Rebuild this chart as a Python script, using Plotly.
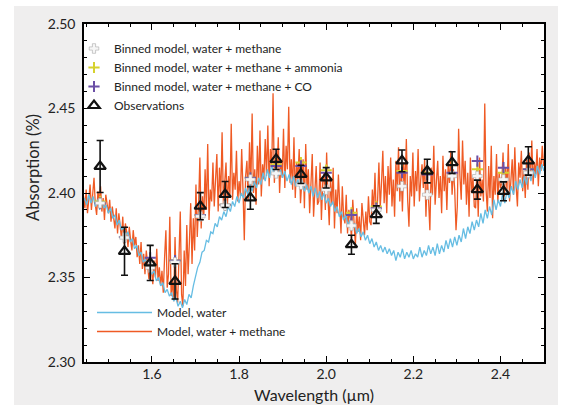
import plotly.graph_objects as go

# ---------------- data ----------------
obs_wl = [1.481, 1.537, 1.596, 1.653, 1.711, 1.768, 1.826, 1.885, 1.942,
          2.000, 2.058, 2.115, 2.174, 2.232, 2.289, 2.347, 2.407, 2.464]
obs_abs = [2.4157, 2.3655, 2.3586, 2.3477, 2.3922, 2.3991, 2.3971, 2.4199, 2.4110,
           2.4090, 2.3694, 2.3872, 2.4190, 2.4130, 2.4180, 2.4020, 2.4010, 2.4190]
obs_err = [0.0154, 0.0142, 0.0104, 0.0104, 0.0080, 0.0077, 0.0067, 0.0060, 0.0054,
           0.0060, 0.0056, 0.0052, 0.0064, 0.0070, 0.0064, 0.0056, 0.0056, 0.0084]

bin_wm = [2.394, 2.3736, 2.3558, 2.359, 2.3862, 2.3926, 2.408, 2.4116, 2.405,
          2.402, 2.3807, 2.390, 2.404, 2.399, 2.410, 2.410, 2.408, 2.412]
bin_wma = [2.395, 2.374, 2.357, 2.360, 2.387, 2.393, 2.409, 2.4169, 2.418,
           2.4135, 2.3883, 2.392, 2.413, 2.412, 2.4165, 2.414, 2.412, 2.414]
bin_wmco = [2.394, 2.374, 2.3617, 2.360, 2.387, 2.393, 2.409, 2.416, 2.416,
            2.412, 2.387, 2.391, 2.412, 2.411, 2.412, 2.4189, 2.415, 2.414]

water_wl = [
    1.445, 1.450, 1.455, 1.460, 1.465, 1.470, 1.475, 1.480, 1.485, 1.490,
    1.495, 1.500, 1.505, 1.510, 1.515, 1.520, 1.525, 1.530, 1.535, 1.540,
    1.545, 1.550, 1.555, 1.560, 1.565, 1.570, 1.575, 1.580, 1.585, 1.590,
    1.595, 1.600, 1.605, 1.610, 1.615, 1.620, 1.625, 1.630, 1.635, 1.640,
    1.645, 1.650, 1.655, 1.660, 1.665, 1.670, 1.675, 1.680, 1.685, 1.690,
    1.695, 1.700, 1.705, 1.710, 1.715, 1.720, 1.725, 1.730, 1.735, 1.740,
    1.745, 1.750, 1.755, 1.760, 1.765, 1.770, 1.775, 1.780, 1.785, 1.790,
    1.795, 1.800, 1.805, 1.810, 1.815, 1.820, 1.825, 1.830, 1.835, 1.840,
    1.845, 1.850, 1.855, 1.860, 1.865, 1.870, 1.875, 1.880, 1.885, 1.890,
    1.895, 1.900, 1.905, 1.910, 1.915, 1.920, 1.925, 1.930, 1.935, 1.940,
    1.945, 1.950, 1.955, 1.960, 1.965, 1.970, 1.975, 1.980, 1.985, 1.990,
    1.995, 2.000, 2.005, 2.010, 2.015, 2.020, 2.025, 2.030, 2.035, 2.040,
    2.045, 2.050, 2.055, 2.060, 2.065, 2.070, 2.075, 2.080, 2.085, 2.090,
    2.095, 2.100, 2.105, 2.110, 2.115, 2.120, 2.125, 2.130, 2.135, 2.140,
    2.145, 2.150, 2.155, 2.160, 2.165, 2.170, 2.175, 2.180, 2.185, 2.190,
    2.195, 2.200, 2.205, 2.210, 2.215, 2.220, 2.225, 2.230, 2.235, 2.240,
    2.245, 2.250, 2.255, 2.260, 2.265, 2.270, 2.275, 2.280, 2.285, 2.290,
    2.295, 2.300, 2.305, 2.310, 2.315, 2.320, 2.325, 2.330, 2.335, 2.340,
    2.345, 2.350, 2.355, 2.360, 2.365, 2.370, 2.375, 2.380, 2.385, 2.390,
    2.395, 2.400, 2.405, 2.410, 2.415, 2.420, 2.425, 2.430, 2.435, 2.440,
    2.445, 2.450, 2.455, 2.460, 2.465, 2.470, 2.475, 2.480, 2.485, 2.490,
    2.495, 2.500]
water_abs = [
    2.397, 2.393, 2.399, 2.394, 2.398, 2.392, 2.396, 2.390, 2.395, 2.391,
    2.393, 2.388, 2.391, 2.385, 2.387, 2.381, 2.384, 2.378, 2.380, 2.375,
    2.377, 2.371, 2.373, 2.367, 2.369, 2.363, 2.365, 2.359, 2.361, 2.356,
    2.358, 2.352, 2.354, 2.348, 2.350, 2.345, 2.347, 2.341, 2.343, 2.339,
    2.341, 2.336, 2.338, 2.333, 2.336, 2.332, 2.337, 2.334, 2.340, 2.338,
    2.345, 2.350, 2.356, 2.359, 2.365, 2.366, 2.372, 2.371, 2.377, 2.376,
    2.382, 2.380, 2.386, 2.384, 2.389, 2.386, 2.392, 2.389, 2.395, 2.392,
    2.398, 2.394, 2.400, 2.397, 2.403, 2.399, 2.405, 2.401, 2.407, 2.403,
    2.409, 2.405, 2.412, 2.407, 2.414, 2.409, 2.417, 2.411, 2.416, 2.410,
    2.414, 2.409, 2.413, 2.407, 2.411, 2.405, 2.410, 2.404, 2.408, 2.403,
    2.407, 2.401, 2.405, 2.400, 2.404, 2.398, 2.403, 2.397, 2.401, 2.396,
    2.400, 2.394, 2.397, 2.392, 2.395, 2.389, 2.392, 2.386, 2.389, 2.384,
    2.387, 2.381, 2.384, 2.379, 2.382, 2.376, 2.379, 2.374, 2.377, 2.372,
    2.375, 2.370, 2.373, 2.368, 2.371, 2.366, 2.369, 2.365, 2.368, 2.364,
    2.367, 2.363, 2.366, 2.360, 2.365, 2.362, 2.367, 2.361, 2.365, 2.362,
    2.366, 2.361, 2.364, 2.362, 2.368, 2.362, 2.366, 2.363, 2.369, 2.364,
    2.368, 2.363, 2.370, 2.364, 2.369, 2.365, 2.372, 2.367, 2.373, 2.368,
    2.374, 2.369, 2.375, 2.371, 2.379, 2.373, 2.380, 2.376, 2.383, 2.378,
    2.384, 2.380, 2.388, 2.382, 2.390, 2.385, 2.392, 2.387, 2.396, 2.390,
    2.396, 2.392, 2.400, 2.394, 2.401, 2.397, 2.404, 2.399, 2.407, 2.402,
    2.408, 2.403, 2.410, 2.405, 2.413, 2.407, 2.414, 2.409, 2.416, 2.411,
    2.417, 2.413]

wm_wl = [
    1.443, 1.446, 1.449, 1.452, 1.455, 1.458, 1.461, 1.464, 1.467, 1.470,
    1.473, 1.476, 1.479, 1.482, 1.485, 1.488, 1.491, 1.494, 1.497, 1.500,
    1.503, 1.506, 1.509, 1.512, 1.515, 1.518, 1.521, 1.524, 1.527, 1.530,
    1.533, 1.536, 1.539, 1.542, 1.545, 1.548, 1.551, 1.554, 1.557, 1.560,
    1.563, 1.566, 1.569, 1.572, 1.575, 1.578, 1.581, 1.584, 1.587, 1.590,
    1.593, 1.596, 1.599, 1.602, 1.605, 1.608, 1.611, 1.614, 1.617, 1.620,
    1.623, 1.626, 1.629, 1.632, 1.635, 1.638, 1.641, 1.644, 1.647, 1.650,
    1.653, 1.656, 1.659, 1.662, 1.665, 1.668, 1.671, 1.674, 1.677, 1.680,
    1.683, 1.686, 1.689, 1.692, 1.695, 1.698, 1.701, 1.704, 1.707, 1.710,
    1.713, 1.716, 1.719, 1.722, 1.725, 1.728, 1.731, 1.734, 1.737, 1.740,
    1.743, 1.746, 1.749, 1.752, 1.755, 1.758, 1.761, 1.764, 1.767, 1.770,
    1.773, 1.776, 1.779, 1.782, 1.785, 1.788, 1.791, 1.794, 1.797, 1.800,
    1.803, 1.806, 1.809, 1.812, 1.815, 1.818, 1.821, 1.824, 1.827, 1.830,
    1.833, 1.836, 1.839, 1.842, 1.845, 1.848, 1.851, 1.854, 1.857, 1.860,
    1.863, 1.866, 1.869, 1.872, 1.875, 1.878, 1.881, 1.884, 1.887, 1.890,
    1.893, 1.896, 1.899, 1.902, 1.905, 1.908, 1.911, 1.914, 1.917, 1.920,
    1.923, 1.926, 1.929, 1.932, 1.935, 1.938, 1.941, 1.944, 1.947, 1.950,
    1.953, 1.956, 1.959, 1.962, 1.965, 1.968, 1.971, 1.974, 1.977, 1.980,
    1.983, 1.986, 1.989, 1.992, 1.995, 1.998, 2.001, 2.004, 2.007, 2.010,
    2.013, 2.016, 2.019, 2.022, 2.025, 2.028, 2.031, 2.034, 2.037, 2.040,
    2.043, 2.046, 2.049, 2.052, 2.055, 2.058, 2.061, 2.064, 2.067, 2.070,
    2.073, 2.076, 2.079, 2.082, 2.085, 2.088, 2.091, 2.094, 2.097, 2.100,
    2.103, 2.106, 2.109, 2.112, 2.115, 2.118, 2.121, 2.124, 2.127, 2.130,
    2.133, 2.136, 2.139, 2.142, 2.145, 2.148, 2.151, 2.154, 2.157, 2.160,
    2.163, 2.166, 2.169, 2.172, 2.175, 2.178, 2.181, 2.184, 2.187, 2.190,
    2.193, 2.196, 2.199, 2.202, 2.205, 2.208, 2.211, 2.214, 2.217, 2.220,
    2.223, 2.226, 2.229, 2.232, 2.235, 2.238, 2.241, 2.244, 2.247, 2.250,
    2.253, 2.256, 2.259, 2.262, 2.265, 2.268, 2.271, 2.274, 2.277, 2.280,
    2.283, 2.286, 2.289, 2.292, 2.295, 2.298, 2.301, 2.304, 2.307, 2.310,
    2.313, 2.316, 2.319, 2.322, 2.325, 2.328, 2.331, 2.334, 2.337, 2.340,
    2.343, 2.346, 2.349, 2.352, 2.355, 2.358, 2.361, 2.364, 2.367, 2.370,
    2.373, 2.376, 2.379, 2.382, 2.385, 2.388, 2.391, 2.394, 2.397, 2.400,
    2.403, 2.406, 2.409, 2.412, 2.415, 2.418, 2.421, 2.424, 2.427, 2.430,
    2.433, 2.436, 2.439, 2.442, 2.445, 2.448, 2.451, 2.454, 2.457, 2.460,
    2.463, 2.466, 2.469, 2.472, 2.475, 2.478, 2.481, 2.484, 2.487, 2.490,
    2.493, 2.496, 2.499]
wm_abs = [
    2.398, 2.391, 2.402, 2.388, 2.396, 2.405, 2.390, 2.399, 2.409, 2.393,
    2.387, 2.401, 2.395, 2.404, 2.389, 2.397, 2.384, 2.399, 2.392, 2.388,
    2.396, 2.383, 2.392, 2.386, 2.379, 2.391, 2.376, 2.388, 2.381, 2.373,
    2.386, 2.370, 2.382, 2.377, 2.368, 2.380, 2.372, 2.366, 2.378, 2.369,
    2.374, 2.362, 2.369, 2.358, 2.371, 2.355, 2.364, 2.352, 2.366, 2.357,
    2.349, 2.362, 2.353, 2.346, 2.360, 2.350, 2.367, 2.348, 2.356, 2.345,
    2.354, 2.341, 2.362, 2.378, 2.344, 2.352, 2.386, 2.339, 2.348, 2.336,
    2.374, 2.343, 2.335, 2.358, 2.389, 2.340, 2.333, 2.366, 2.345, 2.381,
    2.352, 2.371, 2.394, 2.358, 2.385, 2.366, 2.405, 2.374, 2.392, 2.421,
    2.379, 2.398, 2.386, 2.414, 2.390, 2.429, 2.384, 2.402, 2.395, 2.418,
    2.392, 2.408, 2.423, 2.389, 2.415, 2.398, 2.436, 2.394, 2.405, 2.418,
    2.391, 2.410, 2.399, 2.441, 2.396, 2.412, 2.402, 2.425, 2.395, 2.407,
    2.398, 2.426, 2.402, 2.372, 2.410, 2.419, 2.396, 2.430, 2.404, 2.447,
    2.400, 2.414, 2.393, 2.428, 2.405, 2.437, 2.398, 2.417, 2.408, 2.432,
    2.410, 2.440, 2.404, 2.426, 2.415, 2.459, 2.406, 2.421, 2.412, 2.433,
    2.400, 2.418, 2.409, 2.438, 2.403, 2.428, 2.414, 2.451, 2.406, 2.420,
    2.402, 2.433, 2.397, 2.418, 2.408, 2.426, 2.394, 2.412, 2.420, 2.391,
    2.429, 2.402, 2.414, 2.388, 2.409, 2.423, 2.386, 2.405, 2.416, 2.393,
    2.395, 2.418, 2.384, 2.406, 2.412, 2.390, 2.424, 2.398, 2.381, 2.409,
    2.393, 2.415, 2.379, 2.402, 2.388, 2.411, 2.394, 2.376, 2.404, 2.386,
    2.382, 2.399, 2.376, 2.390, 2.385, 2.373, 2.396, 2.380, 2.369, 2.391,
    2.377, 2.386, 2.372, 2.394, 2.381, 2.375, 2.389, 2.378, 2.398, 2.383,
    2.381, 2.402, 2.389, 2.412, 2.385, 2.396, 2.418, 2.391, 2.406, 2.425,
    2.394, 2.410, 2.388, 2.416, 2.399, 2.421, 2.392, 2.408, 2.386, 2.419,
    2.401, 2.427, 2.395, 2.412, 2.389, 2.418, 2.404, 2.432, 2.396, 2.380,
    2.410, 2.398, 2.424, 2.392, 2.413, 2.401, 2.426, 2.395, 2.408, 2.417,
    2.403, 2.420, 2.386, 2.411, 2.396, 2.378, 2.415, 2.399, 2.428, 2.393,
    2.407, 2.419, 2.397, 2.410, 2.388, 2.422, 2.401, 2.414, 2.390, 2.417,
    2.406, 2.425, 2.399, 2.414, 2.402, 2.378, 2.392, 2.438, 2.410, 2.396,
    2.431, 2.405, 2.419, 2.393, 2.412, 2.386, 2.421, 2.400, 2.409, 2.392,
    2.391, 2.414, 2.386, 2.421, 2.398, 2.408, 2.395, 2.453, 2.402, 2.389,
    2.416, 2.397, 2.428, 2.385, 2.410, 2.399, 2.423, 2.394, 2.412, 2.403,
    2.406, 2.424, 2.398, 2.415, 2.402, 2.429, 2.395, 2.411, 2.420, 2.399,
    2.427, 2.404, 2.392, 2.418, 2.409, 2.425, 2.401, 2.413, 2.397, 2.420,
    2.402, 2.424, 2.408, 2.431, 2.405, 2.418, 2.411, 2.426, 2.404, 2.421,
    2.413, 2.428, 2.416]

x_ticks = [1.6, 1.8, 2.0, 2.2, 2.4]
x_ticklabels = ["1.6", "1.8", "2.0", "2.2", "2.4"]
y_ticks = [2.30, 2.35, 2.40, 2.45, 2.50]
y_ticklabels = ["2.30", "2.35", "2.40", "2.45", "2.50"]

# ---------------- style ----------------
FONT = "Lato"
ORANGE = "#ef5a24"
BLUE = "#66bde3"
YELLOW = "#d6d12e"
PURPLE = "#6b4fa6"
PANEL = "#efeeee"

W, H = 562, 405
ML, MR, MT, MB = 84, 18, 24, 43
PW, PH = W - ML - MR, H - MT - MB


def px(xp):
    return (xp - ML) / PW


def py(yp):
    return (H - MB - yp) / PH


fig = go.Figure()

fig.add_trace(go.Scatter(
    x=wm_wl, y=wm_abs, mode="lines", name="Model, water + methane",
    line=dict(color=ORANGE, width=1.3), legend="legend2", legendrank=2))
fig.add_trace(go.Scatter(
    x=water_wl, y=water_abs, mode="lines", name="Model, water",
    line=dict(color=BLUE, width=1.3), legend="legend2", legendrank=1))

fig.add_trace(go.Scatter(
    x=obs_wl, y=bin_wma, mode="markers", name="Binned model, water + methane + ammonia",
    marker=dict(symbol="cross-thin-open", size=8, color=YELLOW, line=dict(color=YELLOW, width=2)),
    legend="legend", legendrank=2))
fig.add_trace(go.Scatter(
    x=obs_wl, y=bin_wmco, mode="markers", name="Binned model, water + methane + CO",
    marker=dict(symbol="cross-thin-open", size=8, color=PURPLE, line=dict(color=PURPLE, width=2)),
    legend="legend", legendrank=3))
fig.add_trace(go.Scatter(
    x=obs_wl, y=bin_wm, mode="markers", name="Binned model, water + methane",
    marker=dict(symbol="cross", size=8, color="#f6f6f6", line=dict(color="#a8a8a8", width=0.6)),
    legend="legend", legendrank=1))
fig.add_trace(go.Scatter(
    x=obs_wl, y=obs_abs, mode="markers", name="Observations",
    error_y=dict(type="data", array=obs_err, color="#111111", thickness=1.6, width=3.5),
    marker=dict(symbol="triangle-up-open", size=10, color="#111111", line=dict(width=2.2)),
    legend="legend", legendrank=4))

axis_common = dict(
    showline=True, linecolor="black", linewidth=1.5, mirror="allticks",
    ticks="inside", ticklen=6, tickwidth=1, tickcolor="black",
    showgrid=False, zeroline=False,
    tickfont=dict(family=FONT, size=14, color="#222222"),
)
fig.update_xaxes(range=[1.444, 2.50], tickvals=x_ticks, ticktext=x_ticklabels,
                 ticklabelstandoff=-2,
                 minor=dict(tick0=1.6, dtick=0.05, ticks="inside", ticklen=3,
                            tickcolor="black", tickwidth=1),
                 **axis_common)
fig.update_yaxes(range=[2.30, 2.50], tickvals=y_ticks, ticktext=y_ticklabels,
                 ticklabelstandoff=4,
                 minor=dict(tick0=2.30, dtick=0.01, ticks="inside", ticklen=3,
                            tickcolor="black", tickwidth=1),
                 **axis_common)

fig.update_layout(
    width=W, height=H,
    margin=dict(l=ML, r=MR, t=MT, b=MB, pad=0),
    paper_bgcolor=PANEL, plot_bgcolor="white",
    font=dict(family=FONT, color="#222222"),
    legend=dict(x=px(74), y=py(34), xanchor="left", yanchor="top",
                bgcolor="rgba(0,0,0,0)", font=dict(family=FONT, size=12, color="#222222"),
                itemwidth=30, traceorder="normal"),
    legend2=dict(x=px(92), y=py(298), xanchor="left", yanchor="top",
                 bgcolor="rgba(0,0,0,0)", font=dict(family=FONT, size=12, color="#222222"),
                 itemwidth=55, traceorder="normal"),
    shapes=[
        dict(type="rect", xref="paper", yref="paper", x0=px(0), x1=px(14), y0=py(H), y1=py(0),
             fillcolor="white", line=dict(width=0), layer="below"),
        dict(type="rect", xref="paper", yref="paper", x0=px(0), x1=px(W), y0=py(6), y1=py(0),
             fillcolor="white", line=dict(width=0), layer="below"),
        dict(type="rect", xref="paper", yref="paper", x0=px(558), x1=px(W), y0=py(H), y1=py(0),
             fillcolor="white", line=dict(width=0), layer="below"),
    ],
    annotations=[
        dict(text="Absorption (%)", xref="paper", yref="paper", x=px(33), y=py(168),
             textangle=-90, showarrow=False, xanchor="center", yanchor="middle",
             font=dict(family=FONT, size=16.5, color="#222222")),
        dict(text="Wavelength (µm)", xref="paper", yref="paper", x=px(314), y=py(394),
             showarrow=False, xanchor="center", yanchor="middle",
             font=dict(family=FONT, size=16, color="#222222")),
    ],
)

fig.write_html("out.html", config={"displayModeBar": False},
               post_script="document.body.style.margin='0';")
